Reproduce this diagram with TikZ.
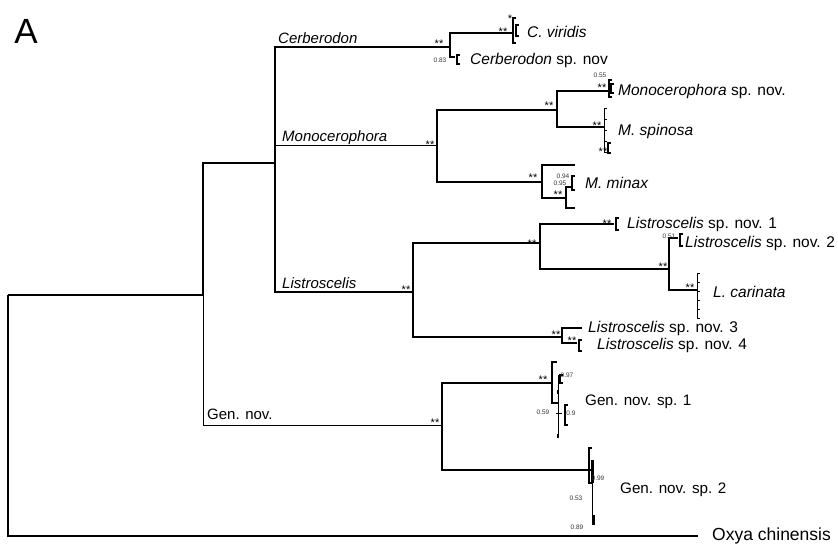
\documentclass[tikz,border=0pt]{standalone}
\usepackage{fontspec}
\setmainfont{Liberation Sans}
\newcommand{\tipbar}[3]{\draw[br] (#1+3,#2) -| (#1,#3) -- ++(3,0);}
\tikzset{
	br/.style={line width=1.6pt},
	thin br/.style={line width=1pt},
	taxon/.style={anchor=west, inner sep=0pt, font=\fontsize{15.5}{16}\selectfont},
	clade/.style={anchor=west, inner sep=0pt, font=\fontsize{15}{16}\selectfont\itshape},
	sup/.style={inner sep=0pt, font=\fontsize{11}{11}\selectfont},
	pp/.style={inner sep=0pt, font=\fontsize{6.5}{7}\selectfont, text=black!80}
}
\begin{document}
\begin{tikzpicture}[x=1pt, y=-1pt]
	\useasboundingbox (0,0) rectangle (838,548);

	\node[font=\fontsize{35}{35}\selectfont, inner sep=0pt] (panel) at (26,31) {A};

	\coordinate (root) at (8,295);
	\coordinate (inner) at (203,295);
	\coordinate (oxya) at (698,536);
	\coordinate (ing) at (275,163);
	\coordinate (gen) at (442,425);
	\coordinate (cerb) at (450,47);
	\coordinate (mono) at (437,146);
	\coordinate (list) at (413,292);
	\coordinate (cvir) at (513,33);
	\coordinate (csp) at (455,57);
	\coordinate (monoA) at (557,110);
	\coordinate (minax) at (542,182);
	\coordinate (monosp) at (608,91);
	\coordinate (mspin) at (604,127);
	\coordinate (mm1) at (575,165);
	\coordinate (mm2) at (566,198);
	\coordinate (mm2a) at (572,187);
	\coordinate (mm2b) at (575,208);
	\coordinate (listA) at (540,243);
	\coordinate (listB) at (562,337);
	\coordinate (l1) at (614,224);
	\coordinate (listC) at (669,269);
	\coordinate (l2) at (678,238);
	\coordinate (lcar) at (697,290);
	\coordinate (l3) at (582,328);
	\coordinate (l4) at (577,343);
	\coordinate (genA) at (552,383);
	\coordinate (genB) at (591,470);
	\coordinate (g1a) at (557,362);
	\coordinate (g1b) at (558,403);

	\foreach \p/\c in {root/inner, root/oxya, inner/ing, ing/cerb, ing/list, cerb/cvir, cerb/csp,
		mono/monoA, mono/minax, monoA/monosp, monoA/mspin, minax/mm1, minax/mm2, mm2/mm2a, mm2/mm2b,
		list/listA, list/listB, listA/l1, listA/listC, listC/l2, listC/lcar, listB/l3, listB/l4,
		gen/genA, gen/genB, genA/g1a, genA/g1b}
	{
		\draw[br] (\p) |- (\c);
	}
	\draw[thin br] (ing) |- (mono);
	\draw[thin br] (inner) |- (gen);

	\tipbar{513}{18}{43}
	\tipbar{516}{25}{36}
	\tipbar{457}{55}{64}
	\tipbar{609}{80}{97}
	\tipbar{611}{84}{93}
	\draw[thin br] (604,109) -- (604,153);
	\foreach \y in {109,120,131,142,153}
	{
		\draw[thin br] (604,\y) -- ++(3,0);
	}
	\tipbar{608}{143}{153}
	\tipbar{572}{176}{190}
	\tipbar{616}{218}{230}
	\tipbar{680}{234}{246}
	\draw[thin br] (697,273) -- (697,318);
	\foreach \y in {273,282,291,300,309,318}
	{
		\draw[thin br] (697,\y) -- ++(3,0);
	}
	\tipbar{579}{340}{351}
	\draw[thin br] (558,375) -- (558,438);
	\tipbar{560}{375}{383}
	\draw[thin br] (556,413) -- (562,413);
	\tipbar{565}{405}{425}
	\draw[line width=2.5pt] (558,390) -- (558,394);
	\draw[line width=2.5pt] (558,434) -- (558,438);
	\tipbar{589}{448}{483}
	\draw[line width=3pt] (592,460) -- (592,483);
	\draw[thin br] (592,483) -- (592,525);
	\draw[line width=3pt] (593,515) -- (593,525);

	\node[clade] (c-cerb) at (278,38) {Cerberodon};
	\node[clade] (c-mono) at (282,138) {Monocerophora};
	\node[clade] (c-list) at (282,283) {Listroscelis};
	\node[clade, font=\fontsize{15}{16}\selectfont] (c-gen) at (207,414) {Gen. nov.};

	\node[taxon] (t-cvir) at (527,32) {\textit{C. viridis}};
	\node[taxon] (t-csp) at (470,60) {\textit{Cerberodon} sp. nov};
	\node[taxon] (t-monosp) at (618,91) {\textit{Monocerophora} sp. nov.};
	\node[taxon] (t-mspin) at (618,131) {\textit{M. spinosa}};
	\node[taxon] (t-minax) at (585,183) {\textit{M. minax}};
	\node[taxon] (t-l1) at (627,224) {\textit{Listroscelis} sp. nov. 1};
	\node[taxon] (t-l2) at (685,243) {\textit{Listroscelis} sp. nov. 2};
	\node[taxon] (t-lcar) at (713,292) {\textit{L. carinata}};
	\node[taxon] (t-l3) at (588,328) {\textit{Listroscelis} sp. nov. 3};
	\node[taxon] (t-l4) at (597,345) {\textit{Listroscelis} sp. nov. 4};
	\node[taxon, font=\fontsize{15.2}{16}\selectfont] (t-g1) at (585,402) {Gen. nov. sp. 1};
	\node[taxon, font=\fontsize{15.2}{16}\selectfont] (t-g2) at (620,490) {Gen. nov. sp. 2};
	\node[taxon, font=\fontsize{17.5}{18}\selectfont] (t-oxya) at (712,536) {Oxya chinensis};

	\foreach \i/\x/\y/\t in {1/439/44/**, 2/510/19/*, 3/503/32/**, 4/430/145/**, 5/549/106/**,
		6/602/88/**, 7/597/126/**, 8/603/152/**, 9/533/178/**, 10/558/195/**, 11/406/290/**,
		12/532/244/**, 13/607/224/**, 14/663/267/**, 15/690/288/**, 16/556/335/**, 17/572/341/**,
		18/435/423/**, 19/543/380/**}
	{
		\node[sup] (s\i) at (\x,\y) {\t};
	}

	\foreach \i/\x/\y/\t in {1/440/60/0.83, 2/600/75/0.55, 3/563/176/0.94, 4/560/183/0.95,
		5/669/236/0.51, 6/567/375/0.97, 7/543/412/0.59, 8/571/413/0.9, 9/598/478/0.99,
		10/576/498/0.53, 11/577/527/0.89}
	{
		\node[pp] (p\i) at (\x,\y) {\t};
	}
\end{tikzpicture}
\end{document}
